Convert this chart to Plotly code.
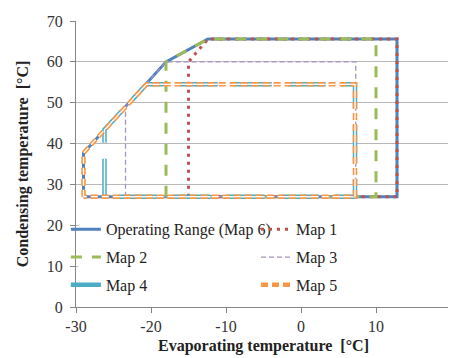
import plotly.graph_objects as go

# Data
op_x = [-29, -29, -18, -12.4, 12.8, 12.8, -29]
op_y = [27, 37.7, 60, 65.6, 65.6, 27, 27]
map1_x = [-15, -15, -12.4, 12.8, 12.8, -15]
map1_y = [27, 60, 65.6, 65.6, 27, 27]
map2_x = [-18, -18, -12.4, 10, 10, -18]
map2_y = [27, 60, 65.6, 65.6, 27, 27]
map3_x = [-23.4, -23.4, -18, 7.3, 7.3, -23.4]
map3_y = [27, 49, 60, 60, 27, 27]
map4_x = [-26.2, -26.2, -20.6, 7.2, 7.2, -26.2]
map4_y = [27, 43.4, 54.5, 54.5, 27, 27]
map5_x = [-29, -29, -20.6, 7.2, 7.2, -29]
map5_y = [27, 37.7, 54.5, 54.5, 27, 27]

x_ticks = [-30, -20, -10, 0, 10, 20]
x_ticktext = ["-30", "-20", "-10", "0", "10", "20"]
y_ticks = [0, 10, 20, 30, 40, 50, 60, 70]

FONT = "Liberation Serif"
fig = go.Figure()

fig.add_trace(go.Scatter(x=op_x, y=op_y, mode="lines", name="Operating Range (Map 6)",
                         line=dict(color="#4F81BD", width=3), legend="legend", legendgroup="a"))
fig.add_trace(go.Scatter(x=map1_x, y=map1_y, mode="lines", name="Map 1",
                         line=dict(color="#C0504D", width=3, dash="3px,5px"), legend="legend2", legendgroup="b"))
fig.add_trace(go.Scatter(x=map2_x, y=map2_y, mode="lines", name="Map 2",
                         line=dict(color="#9BBB59", width=3, dash="11px,10px"), legend="legend", legendgroup="c"))
fig.add_trace(go.Scatter(x=map3_x, y=map3_y, mode="lines", name="Map 3",
                         line=dict(color="#A390C4", width=1.3, dash="5px,3px"), legend="legend2", legendgroup="d"))
fig.add_trace(go.Scatter(x=map4_x, y=map4_y, mode="lines", name="Map 4",
                         line=dict(color="#4BACC6", width=4.5, dash="38px,16px"), legend="legend", legendgroup="e"))
fig.add_trace(go.Scatter(x=map4_x, y=map4_y, mode="lines", showlegend=False, hoverinfo="skip",
                         line=dict(color="white", width=1.5, dash="38px,16px")))
fig.add_trace(go.Scatter(x=map5_x, y=map5_y, mode="lines", name="Map 5",
                         line=dict(color="#F79646", width=4.5, dash="7px,4px"), legend="legend2", legendgroup="f"))
fig.add_trace(go.Scatter(x=map5_x, y=map5_y, mode="lines", showlegend=False, hoverinfo="skip",
                         line=dict(color="white", width=1.3, dash="7px,4px")))

# white legend box covering gridlines
fig.add_shape(type="rect", xref="x", yref="y", x0=-29.7, x1=20, y0=4, y1=25,
              fillcolor="white", line=dict(width=0), layer="between")

leg_common = dict(orientation="v", yanchor="top", xanchor="left", bgcolor="rgba(0,0,0,0)",
                  font=dict(family=FONT, size=16, color="#222"), tracegroupgap=4,
                  itemwidth=30)
fig.update_layout(
    width=448, height=350,
    margin=dict(l=68, r=5, t=9, b=51),
    paper_bgcolor="white", plot_bgcolor="white",
    font=dict(family=FONT, size=16, color="#222"),
    legend=dict(x=-0.027, y=0.331, **leg_common),
    legend2=dict(x=0.48, y=0.331, **leg_common),
    xaxis=dict(range=[-30, 20], tickvals=x_ticks, ticktext=x_ticktext, showgrid=False, zeroline=False,
               showline=True, linecolor="#868686", linewidth=1,
               ticks="outside", ticklen=5, tickcolor="#868686",
               tickfont=dict(family=FONT, size=16, color="#333"),
               title=dict(text="<b>Evaporating temperature  [°C]</b>", standoff=5,
                          font=dict(family=FONT, size=16))),
    yaxis=dict(range=[0, 70], tickvals=y_ticks, showgrid=True, gridcolor="#b8b8b8", gridwidth=1,
               zeroline=False, showline=True, linecolor="#868686", linewidth=1,
               ticks="outside", ticklen=5, tickcolor="#868686", ticklabelstandoff=4,
               tickfont=dict(family=FONT, size=16, color="#333"),
               title=dict(text="<b>Condensing temperature  [°C]</b>", standoff=14,
                          font=dict(family=FONT, size=16))),
)

fig.write_html("out.html")
